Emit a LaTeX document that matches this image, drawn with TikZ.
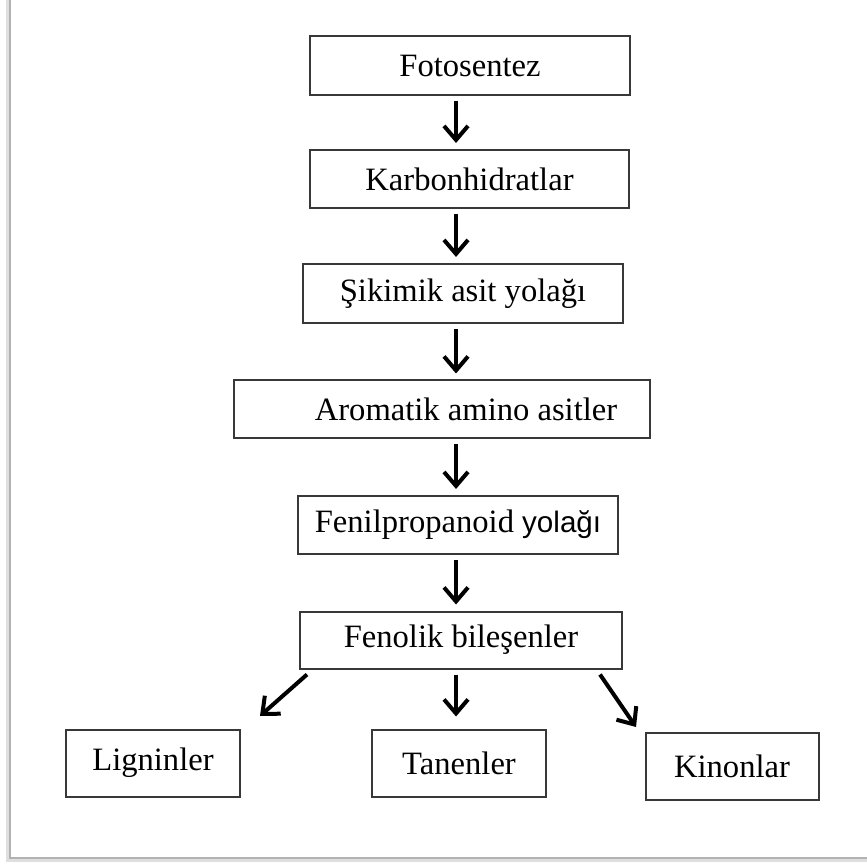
\documentclass[tikz,border=0pt]{standalone}
\usepackage{fontspec}
\setmainfont{Liberation Serif}
\newfontfamily\yolfont{Liberation Sans}
\usetikzlibrary{arrows.meta}
\begin{document}
\begin{tikzpicture}[x=0.5pt,y=-0.5pt,
  box/.style={draw=black!78,line width=1pt,inner sep=0pt,font=\fontsize{16.3}{19}\selectfont},
  arr/.style={line width=2pt,-{Straight Barb[length=7pt,width=12pt]},shorten <=2.5pt,shorten >=3pt}]
\useasboundingbox (0,0) rectangle (867,865);
\draw[gray!25,line width=2pt] (8,0) -- (8,860) -- (867,860);
\draw[gray!60,line width=1pt] (10,0) -- (10,858) -- (867,858);

\node[box,minimum width=160pt,minimum height=29.5pt] (fot) at (470,65.5) {Fotosentez};
\node[box,minimum width=159.5pt,minimum height=29pt] (kar) at (469.5,179) {Karbonhidratlar};
\node[box,minimum width=160pt,minimum height=29.5pt] (sik) at (463,293.5) {Şikimik asit yolağı};
\node[box,minimum width=208pt,minimum height=29pt] (aro) at (442,409.5) {\hspace*{24pt}Aromatik amino asitler};
\node[box,minimum width=160pt,minimum height=29pt] (fen) at (458,525) {Fenilpropanoid {\yolfont\fontsize{14.8}{17}\selectfont yolağı}};
\node[box,minimum width=161pt,minimum height=28.5pt] (fel) at (461,640) {Fenolik bileşenler};
\node[box,minimum width=87pt,minimum height=33.5pt] (lig) at (153,763) {Ligninler};
\node[box,minimum width=87pt,minimum height=33.5pt] (tan) at (459,763) {Tanenler};
\node[box,minimum width=86.5pt,minimum height=33.5pt] (kin) at (732,766.5) {Kinonlar};

\coordinate (ax) at (456,0);
\foreach \a/\b in {fot/kar,kar/sik,sik/aro,aro/fen,fen/fel}
  \draw[arr] (\a.south -| ax) -- (\b.north -| ax);

\draw[arr,shorten <=0pt,shorten >=0pt] ([xshift=4pt,yshift=-2.5pt]fel.south west) -- ([xshift=9.5pt,yshift=6.25pt]lig.north east);
\draw[arr,shorten >=6pt] (fel.south -| ax) -- (tan.north -| ax);
\draw[arr,shorten <=0pt,shorten >=0pt] ([xshift=-11.5pt,yshift=-2.5pt]fel.south east) -- ([xshift=-4.25pt,yshift=2.5pt]kin.north west);
\end{tikzpicture}
\end{document}
